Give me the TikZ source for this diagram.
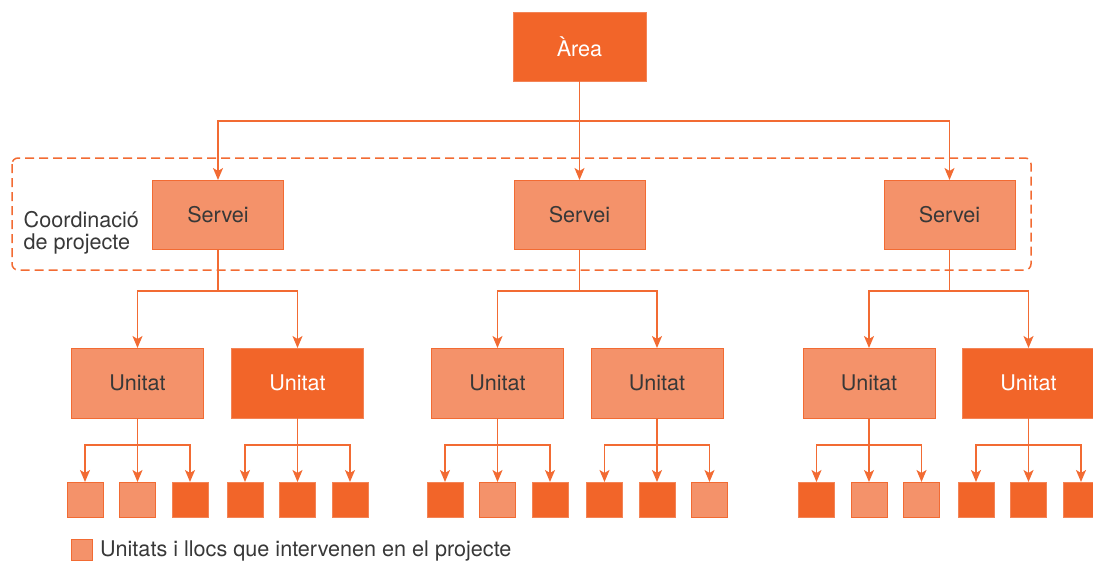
\documentclass[tikz,border=0pt]{standalone}
\usepackage{fontspec}
\setmainfont{TeX Gyre Heros}
\usetikzlibrary{arrows.meta}
\definecolor{orDark}{HTML}{F26529}
\definecolor{orLight}{HTML}{F4926A}
\definecolor{orLine}{HTML}{F26B33}
\definecolor{txtDark}{HTML}{383838}
\tikzset{
  box/.style={draw, line width=1pt, inner sep=0pt, outer sep=0pt,
    font=\fontsize{21.6}{25}\selectfont},
  darkbox/.style={box, fill=orDark, draw=orLight!70!orDark, text=white},
  lightbox/.style={box, fill=orLight, draw=orLine, text=txtDark},
  topbox/.style={minimum width=133pt, minimum height=69pt},
  servbox/.style={minimum width=131pt, minimum height=69pt},
  unitbox/.style={minimum width=132pt, minimum height=70pt},
  sq/.style={minimum width=36pt, minimum height=35pt},
  arr/.style={draw=orLine, line width=1.6pt,
    -{Stealth[length=12pt,width=10pt,inset=3pt]}},
  label/.style={font=\fontsize{21.6}{25}\selectfont, text=txtDark, inner sep=0pt},
}
\begin{document}
\begin{tikzpicture}[x=1pt,y=-1pt]
\useasboundingbox (0,0) rectangle (1093,560);

% project coordination frame
\draw[orLine, line width=1.5pt, dash pattern=on 9pt off 5pt, rounded corners=6pt]
  (12,158) rectangle (1031,270);
\node[label, anchor=base west] (coordA) at (23.5,227) {Coordinació};
\node[label, anchor=base west] (coordB) at (23.5,249) {de projecte};

% top level
\node[darkbox, topbox] (area) at (579.5,46.5) {Àrea};

% services
\node[lightbox, servbox] (s1) at (218,214.5) {Servei};
\node[lightbox, servbox] (s2) at (579.5,214.5) {Servei};
\node[lightbox, servbox] (s3) at (949.5,214.5) {Servei};

\draw[arr] (area.south) -- ++(0,40) -| (s1.north);
\draw[arr] (area.south) -- (s2.north);
\draw[arr] (area.south) -- ++(0,40) -| (s3.north);

% units
\node[lightbox, unitbox] (u1) at (137.5,383) {Unitat};
\node[darkbox, unitbox]  (u2) at (297.5,383) {Unitat};
\node[lightbox, unitbox] (u3) at (497.5,383) {Unitat};
\node[lightbox, unitbox] (u4) at (657,383) {Unitat};
\node[lightbox, unitbox] (u5) at (869,383) {Unitat};
\node[darkbox, unitbox]  (u6) at (1028.5,383) {Unitat};

\foreach \s/\a/\b in {s1/u1/u2, s2/u3/u4, s3/u5/u6}{
  \draw[arr] (\s.south) -- ++(0,42) -| (\a.north);
  \draw[arr] (\s.south) -- ++(0,42) -| (\b.north);
}

% places within each unit
\foreach \u/\x/\ca/\cb/\cc in {
    u1/137.5/lightbox/lightbox/darkbox,
    u2/297.5/darkbox/darkbox/darkbox,
    u3/497.5/darkbox/lightbox/darkbox,
    u4/657/darkbox/darkbox/lightbox,
    u5/869/darkbox/lightbox/lightbox,
    u6/1028.5/darkbox/darkbox/darkbox}{
  \node[\ca, sq] (\u a) at (\x-52.5,499.5) {};
  \node[\cb, sq] (\u b) at (\x,499.5) {};
  \node[\cc, sq] (\u c) at (\x+52.5,499.5) {};
  \draw[arr] (\u.south) -- ++(0,27) -| (\u a.north);
  \draw[arr] (\u.south) -- (\u b.north);
  \draw[arr] (\u.south) -- ++(0,27) -| (\u c.north);
}

% legend
\node[lightbox, minimum width=21pt, minimum height=21pt] (key) at (81.5,550) {};
\node[label, anchor=base west] (keytext) at (100,556.5)
  {Unitats i llocs que intervenen en el projecte};
\end{tikzpicture}
\end{document}
